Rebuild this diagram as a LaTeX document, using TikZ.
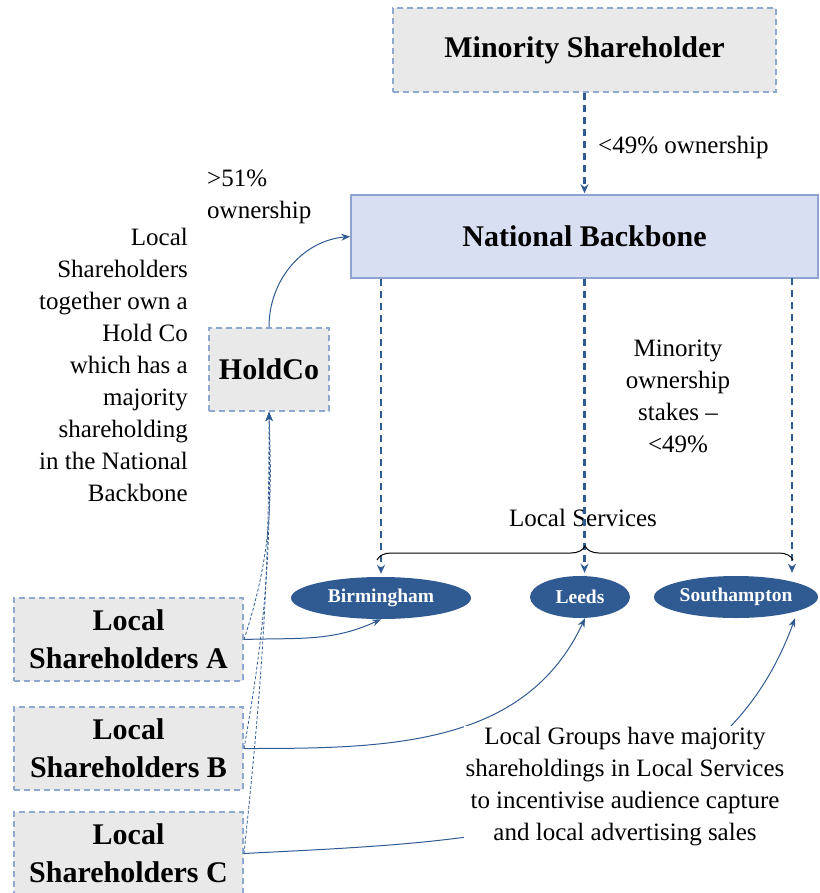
\documentclass[tikz,border=0pt]{standalone}
\usepackage{fontspec}
\setmainfont{Liberation Serif}
\usetikzlibrary{arrows.meta,decorations.pathreplacing,shapes.geometric}
\definecolor{dkblue}{HTML}{2F5A92}
\definecolor{edgeblue}{HTML}{8EA9CD}
\definecolor{boxgray}{HTML}{E9E9E9}
\definecolor{nbfill}{HTML}{D9DFF3}
\definecolor{nbedge}{HTML}{8FA3D0}
\tikzset{
  holder/.style={draw=edgeblue, fill=boxgray, line width=2pt, dash pattern=on 6pt off 4pt,
    align=center, font=\fontsize{30}{38}\selectfont\bfseries},
  service/.style={ellipse, fill=dkblue, text=white, inner sep=0pt,
    minimum height=42pt, font=\fontsize{19.5}{22}\selectfont\bfseries},
  stake/.style={-{Stealth[length=9pt,width=8pt]}, dkblue, line width=2.2pt, dash pattern=on 7pt off 5pt,
    shorten >=3pt},
  link/.style={-{Stealth[length=9pt,width=7pt]}, dkblue, line width=1pt},
  thin link/.style={-{Stealth[length=9pt,width=7pt]}, dkblue, line width=0.8pt, dash pattern=on 3pt off 2pt},
  note/.style={font=\fontsize{25}{32}\selectfont}
}
\begin{document}
\begin{tikzpicture}[x=1pt,y=-1pt]
  \useasboundingbox (0,0) rectangle (819,893);
  % owners at the top
  \node[holder, minimum width=383pt, minimum height=84pt] (min) at (584.5,50) {Minority Shareholder};
  \node[draw=nbedge, fill=nbfill, line width=1.5pt, minimum width=467pt, minimum height=83pt,
    font=\fontsize{30}{38}\selectfont\bfseries] (nb) at (584.5,236.5) {National Backbone};
  \node[holder, minimum width=120pt, minimum height=83pt] (hold) at (269,369.5) {HoldCo};
  % local services
  \node[service, minimum width=180pt] (bir) at (381,598) {Birmingham};
  \node[service, minimum width=100pt] (leeds) at (580,597) {Leeds};
  \node[service, minimum width=164pt] (sou) at (736,597) {Southampton};
  % local shareholders
  \node[holder, minimum width=229pt, minimum height=83pt] (la) at (128.5,639.5) {Local\\Shareholders A};
  \node[holder, minimum width=229pt, minimum height=83pt] (lb) at (128.5,748.5) {Local\\Shareholders B};
  \node[holder, minimum width=229pt, minimum height=83pt] (lc) at (128.5,853.5) {Local\\Shareholders C};
  % texts
  \node[note, anchor=west, inner sep=0pt] (minlbl) at (598,147) {<49\% ownership};
  \node[note, anchor=west, align=left, inner sep=0pt] (holdlbl) at (207,197) {>51\%\\ownership};
  \node[note, anchor=east, align=right, inner sep=0pt] (leftnote) at (188,365)
    {Local\\Shareholders\\together own a\\Hold Co\\which has a\\majority\\shareholding\\in the National\\Backbone};
  \node[note, align=center, inner sep=0pt] (stakes) at (678,396) {Minority\\ownership\\stakes --\\<49\%};
  \node[note, inner sep=0pt] (lserv) at (583,518) {Local Services};
  % connectors
  \draw[stake, shorten >=1pt] (min.south) -- (nb.north);
  \draw[link] (hold.north) to[out=90,in=185] (nb.west);
  \coordinate (nbr) at (792,278);
  \draw[stake] (bir.north |- nb.south) -- (bir.north);
  \draw[stake] (nb.south) -- (nb.south |- leeds.north);
  \draw[stake] (nbr) -- (nbr |- sou.north);
  \draw[decorate, decoration={brace, amplitude=14pt}, line width=1pt]
    (377,560) -- (793,560);
  \draw[thin link] (la.east) to[out=72,in=-88] (hold.south);
  \draw[thin link] (lb.east) to[out=80,in=-89] (hold.south);
  \draw[thin link] (lc.east) to[out=84,in=-90] (hold.south);
  \draw[link] (la.east) to[out=2,in=205] (bir.south);
  \draw[link] (lb.east) to[out=0,in=-115] ([xshift=5pt]leeds.south);
  \draw[link] (lc.east) to[out=3,in=-110] ([xshift=59pt]sou.south);
  \node[note, align=center, fill=white, inner sep=2pt] (groups) at (625,787)
    {Local Groups have majority\\shareholdings in Local Services\\to incentivise audience capture\\and local advertising sales};
\end{tikzpicture}
\end{document}
